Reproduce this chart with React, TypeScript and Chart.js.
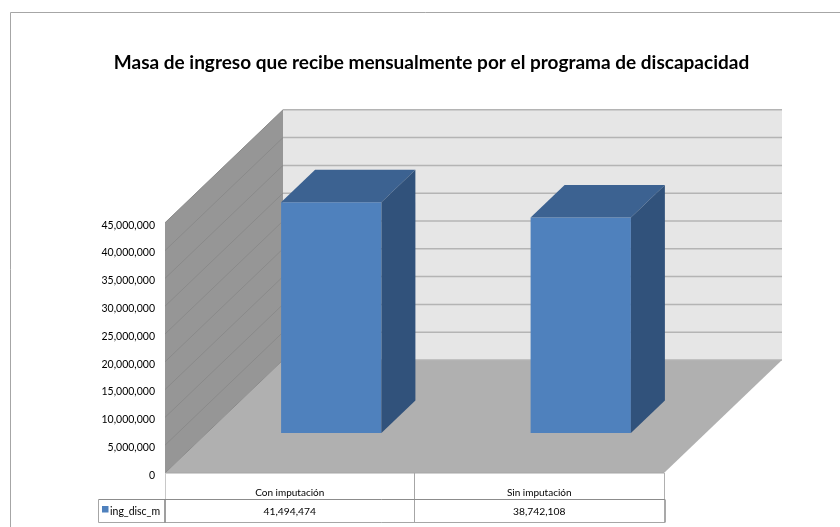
import React, { useEffect, useRef } from "react";
import { Chart, registerables } from "chart.js";

Chart.register(...registerables);

const categories = ["Con imputación", "Sin imputación"];
const seriesName = "ing_disc_m";
const ingDiscM = [41494474, 38742108];
const axisMax = 45000000;
const axisStep = 5000000;
const chartTitle = "Masa de ingreso que recibe mensualmente por el programa de discapacidad";

const FONT = "Lato, Carlito, sans-serif";
const fmt = (v: number) => Number(v).toLocaleString("en-US");

// Depth offsets of the fake 3D projection
const WALL = { dx: 118, dy: -113 };
const BAR_SHIFT = { dx: 41.5, dy: -40 };
const BAR_DEPTH = { dx: 34, dy: -32.5 };

function poly(ctx: CanvasRenderingContext2D, pts: number[][], fill: string) {
  ctx.beginPath();
  pts.forEach((p, i) => (i ? ctx.lineTo(p[0], p[1]) : ctx.moveTo(p[0], p[1])));
  ctx.closePath();
  ctx.fillStyle = fill;
  ctx.fill();
}

function line(ctx: CanvasRenderingContext2D, x0: number, y0: number, x1: number, y1: number, color: string, w = 1) {
  ctx.beginPath();
  ctx.moveTo(x0, y0);
  ctx.lineTo(x1, y1);
  ctx.strokeStyle = color;
  ctx.lineWidth = w;
  ctx.stroke();
}

const scene3d = {
  id: "scene3d",
  beforeDraw(chart: any) {
    const { ctx, width, height } = chart;
    ctx.save();
    ctx.fillStyle = "#ffffff";
    ctx.fillRect(0, 0, width, height);
    ctx.strokeStyle = "#a6a6a6";
    ctx.lineWidth = 1;
    ctx.beginPath();
    ctx.moveTo(10.5, height);
    ctx.lineTo(10.5, 12.5);
    ctx.lineTo(width, 12.5);
    ctx.stroke();
    ctx.restore();
  },
  beforeDatasetsDraw(chart: any) {
    const { ctx, chartArea: a, scales } = chart;
    const y = scales.y;
    const b = a.bottom;
    const t = a.top;
    const l = a.left;
    const r = a.right;
    ctx.save();
    // back wall
    poly(ctx, [[l + WALL.dx, t + WALL.dy], [r + WALL.dx, t + WALL.dy], [r + WALL.dx, b + WALL.dy], [l + WALL.dx, b + WALL.dy]], "#e6e6e6");
    // side wall
    poly(ctx, [[l, t], [l + WALL.dx, t + WALL.dy], [l + WALL.dx, b + WALL.dy], [l, b]], "#969696");
    // floor
    poly(ctx, [[l, b], [l + WALL.dx, b + WALL.dy], [r + WALL.dx, b + WALL.dy], [r, b]], "#b0b0b0");
    // gridlines
    y.ticks.forEach((tk: any) => {
      const py = y.getPixelForValue(tk.value);
      line(ctx, l, py, l + WALL.dx, py + WALL.dy, "#8a8a8a", 1);
      line(ctx, l + WALL.dx, py + WALL.dy, r + WALL.dx, py + WALL.dy, "#b4b4b4", 1.5);
    });
    ctx.restore();
    // bars are drawn on the real scale, pushed back into the floor's depth
    ctx.save();
    ctx.translate(BAR_SHIFT.dx, BAR_SHIFT.dy);
  },
  afterDatasetsDraw(chart: any) {
    const { ctx } = chart;
    const meta = chart.getDatasetMeta(0);
    meta.data.forEach((bar: any) => {
      const x0 = bar.x - bar.width / 2;
      const x1 = bar.x + bar.width / 2;
      const top = bar.y;
      const base = bar.base;
      const { dx, dy } = BAR_DEPTH;
      poly(ctx, [[x0, top], [x0 + dx, top + dy], [x1 + dx, top + dy], [x1, top]], "#3c6291");
      poly(ctx, [[x1, top], [x1 + dx, top + dy], [x1 + dx, base + dy], [x1, base]], "#31527b");
    });
    ctx.restore();
  },
  afterDraw(chart: any) {
    const { ctx, chartArea: a, scales } = chart;
    const x = scales.x;
    const l = a.left;
    const r = a.right;
    const b = a.bottom;
    const rowY = 499.5;
    const endY = 522.5;
    const legL = 98.5;
    const mid = (x.getPixelForValue(0) + x.getPixelForValue(1)) / 2;
    ctx.save();
    line(ctx, l, b, r, b, "#a6a6a6", 1);
    line(ctx, l + 0.5, b, l + 0.5, rowY, "#c8c8c8", 1);
    line(ctx, mid, b, mid, endY, "#a6a6a6", 1);
    line(ctx, r + 0.5, b, r + 0.5, rowY, "#b0b0b0", 1);
    line(ctx, r + 1, rowY, r + 1, endY, "#8c8c8c", 1.5);
    line(ctx, legL, rowY, r + 1, rowY, "#8c8c8c", 1);
    line(ctx, legL, endY, r + 1, endY, "#a6a6a6", 1);
    line(ctx, legL, rowY, legL, endY, "#a6a6a6", 1);
    line(ctx, l, rowY, l, endY, "#7f7f7f", 1.5);
    ctx.fillStyle = "#4f81bd";
    ctx.fillRect(102, 506, 6.5, 6.5);
    ctx.fillStyle = "#000000";
    ctx.font = `10.5px ${FONT}`;
    ctx.textBaseline = "middle";
    ctx.textAlign = "left";
    ctx.fillText(seriesName, 110, 511.5);
    ctx.textAlign = "center";
    ctx.font = `10.3px ${FONT}`;
    ingDiscM.forEach((v, i) => {
      ctx.fillText(fmt(v), x.getPixelForValue(i), 512);
    });
    ctx.restore();
  },
};

export default function App() {
  const ref = useRef<HTMLCanvasElement>(null);
  useEffect(() => {
    const chart = new Chart(ref.current as HTMLCanvasElement, {
      type: "bar",
      plugins: [scene3d],
      data: {
        labels: categories,
        datasets: [
          {
            label: seriesName,
            data: ingDiscM,
            backgroundColor: "#4f81bd",
            barPercentage: 0.402,
            categoryPercentage: 1,
            clip: false,
          } as any,
        ],
      },
      options: {
        responsive: false,
        animation: false,
        layout: { padding: { left: 23, right: 0, top: 0, bottom: 0 } },
        plugins: {
          legend: { display: false },
          tooltip: { enabled: false },
          title: {
            display: true,
            text: chartTitle,
            color: "#000000",
            font: { family: FONT, size: 19, weight: "bold", lineHeight: 1.2 },
            padding: { top: 51, bottom: 149 },
          },
        },
        scales: {
          x: {
            type: "category",
            grid: { display: false },
            border: { display: false },
            ticks: { color: "#000000", font: { family: FONT, size: 10 }, padding: 6, maxRotation: 0 },
            afterFit(s: any) {
              s.height = 54;
            },
          },
          y: {
            min: 0,
            max: axisMax,
            grid: { display: false, drawTicks: false },
            border: { display: false },
            ticks: {
              stepSize: axisStep,
              color: "#000000",
              font: { family: FONT, size: 10.5 },
              padding: 10,
              labelOffset: 2.5,
              callback: (v: any) => fmt(v),
            },
            afterFit(s: any) {
              s.width = 142;
            },
          },
          yRight: {
            position: "right",
            grid: { display: false, drawTicks: false },
            border: { display: false },
            ticks: { display: false },
            afterFit(s: any) {
              s.width = 176;
            },
          },
        },
      } as any,
    });
    return () => chart.destroy();
  }, []);
  return (
    <canvas
      ref={ref}
      width={840}
      height={527}
      style={{ position: "absolute", left: 0, top: 0, display: "block" }}
    />
  );
}
